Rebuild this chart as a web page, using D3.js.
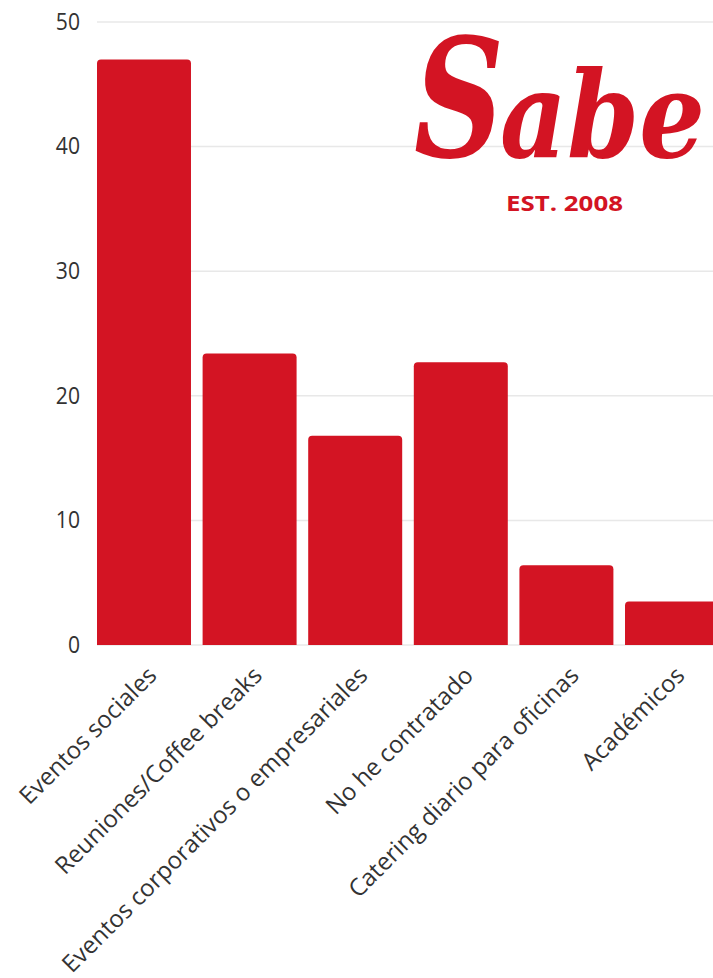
<!DOCTYPE html>
<html>
<head>
<meta charset="utf-8">
<script src="https://cdn.jsdelivr.net/npm/d3@7"></script>
<style>
  html, body { margin: 0; padding: 0; background: #fff; overflow: hidden; }
  svg { display: block; }
</style>
</head>
<body>
<svg id="chart" width="713" height="978"></svg>
<script>
// Tipos de servicio de catering contratados
const categories = [
  "Eventos sociales",
  "Reuniones/Coffee breaks",
  "Eventos corporativos o empresariales",
  "No he contratado",
  "Catering diario para oficinas",
  "Académicos"
];
const values = [47.0, 23.4, 16.8, 22.7, 6.4, 3.5];
const yTicks = [0, 10, 20, 30, 40, 50];

const red = "#d31423";
const svg = d3.select("#chart");

const x = d3.scaleBand()
  .domain(categories)
  .range([97, 719])
  .paddingInner(0.11)
  .paddingOuter(0);

const y = d3.scaleLinear()
  .domain([0, 50])
  .range([645, 22]);

// gridlines
svg.append("g")
  .selectAll("line")
  .data(yTicks)
  .join("line")
  .attr("x1", 97)
  .attr("x2", 713)
  .attr("y1", d => y(d))
  .attr("y2", d => y(d))
  .attr("stroke", "#e8e8e8")
  .attr("stroke-width", 1.5);

// y axis labels
const yAxis = svg.append("g")
  .attr("transform", "translate(80,0)")
  .call(d3.axisLeft(y).tickValues(yTicks).tickSize(0).tickPadding(0));
yAxis.select(".domain").remove();
yAxis.selectAll("text")
  .attr("font-family", "'Open Sans', sans-serif")
  .attr("font-size", 24)
  .attr("fill", "#333")
  .attr("dy", "0.3em")
  .attr("transform", "scale(0.88,1)");

// logo: big initial, then the rest of the word, each squeezed to fit
const logo = svg.append("g");
function logoWord(txt, size, x0, width, base) {
  const g = logo.append("g");
  const t = g.append("text")
    .attr("x", 0)
    .attr("y", 0)
    .attr("font-family", "'DejaVu Serif', serif")
    .attr("font-style", "italic")
    .attr("font-weight", "bold")
    .attr("font-size", size)
    .attr("fill", red)
    .text(txt);
  const w = t.node().getComputedTextLength();
  g.attr("transform", `translate(${x0},${base}) scale(${width / w},1)`);
}
logoWord("S", 165, 414, 90, 157);
logoWord("abe", 120, 500, 205, 157);

logo.append("text")
  .attr("x", 506)
  .attr("y", 211)
  .attr("font-family", "'Open Sans', sans-serif")
  .attr("font-weight", "bold")
  .attr("font-size", 22)
  .attr("textLength", 117)
  .attr("lengthAdjust", "spacingAndGlyphs")
  .attr("fill", red)
  .text("EST. 2008");

// bars with rounded tops
const r = 4;
function barPath(d, i) {
  const x0 = x(categories[i]);
  const w = x.bandwidth();
  const yt = y(d);
  const yb = y(0);
  return `M${x0},${yb} V${yt + r} Q${x0},${yt} ${x0 + r},${yt} H${x0 + w - r} Q${x0 + w},${yt} ${x0 + w},${yt + r} V${yb} Z`;
}
svg.append("g")
  .selectAll("path")
  .data(values)
  .join("path")
  .attr("d", (d, i) => barPath(d, i))
  .attr("fill", red);

// x axis labels, rotated
const xAxis = svg.append("g")
  .attr("transform", `translate(0,${y(0)})`)
  .call(d3.axisBottom(x).tickSize(0).tickPadding(0));
xAxis.select(".domain").remove();
xAxis.selectAll("text")
  .attr("font-family", "'Open Sans', sans-serif")
  .attr("font-size", 24)
  .attr("fill", "#333")
  .attr("text-anchor", "end")
  .attr("dy", 0)
  .attr("transform", "translate(14,32) rotate(-45)");
</script>
</body>
</html>
